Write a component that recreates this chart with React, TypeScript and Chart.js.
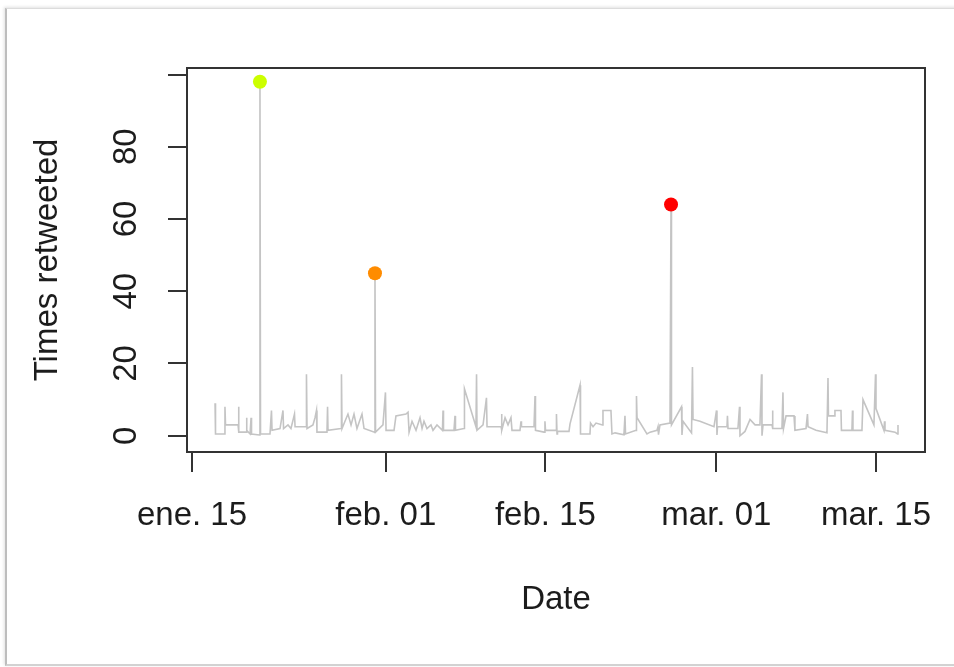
import React, { useEffect, useRef } from 'react';
import { Chart, registerables } from 'chart.js';

Chart.register(...registerables);

// Days since 15 Jan (2016, leap year) of each tweet, and its retweet count
const tweetDays = [
  2.02, 2.06, 2.81, 2.89, 2.94, 4.04, 4.08, 4.12, 4.74, 4.78, 4.82, 5.09, 5.18, 5.22, 5.92, 5.96, 6.01,
  6.84, 6.97, 7.02, 7.72, 7.98, 8.03, 8.42, 8.68, 8.99, 9.04, 10.0, 10.04, 10.09, 10.61, 10.79, 10.92,
  10.96, 11.84, 11.89, 11.93, 13.07, 13.11, 13.16, 13.42, 13.68, 13.95, 14.21, 14.47, 14.91, 15.09,
  16.01, 16.05, 16.1, 16.75, 16.97, 17.02, 17.72, 17.89, 18.77, 18.95, 19.04, 19.3, 19.65, 20.0, 20.18,
  20.35, 20.61, 20.96, 21.14, 21.49, 21.97, 22.02, 22.06, 22.98, 23.07, 23.11, 23.86, 23.9, 24.91, 24.96,
  25.0, 25.53, 25.83, 25.88, 27.11, 27.15, 27.19, 27.46, 27.72, 27.98, 28.07, 28.77, 28.86, 28.9, 30.0,
  30.09, 30.13, 30.88, 30.96, 31.01, 31.93, 31.97, 32.02, 32.06, 33.07, 33.16, 34.04, 34.08, 34.91, 34.96,
  35.18, 35.44, 36.01, 36.05, 36.75, 36.84, 37.11, 37.89, 37.98, 38.03, 38.95, 38.99, 39.04, 39.91, 40.18,
  40.79, 40.88, 40.92, 41.05, 41.93, 42.02, 42.06, 42.94, 42.98, 43.07, 43.82, 43.9, 43.95, 44.56, 45.79,
  46.01, 46.05, 46.1, 46.93, 46.97, 47.02, 47.89, 48.03, 48.07, 48.51, 48.95, 49.39, 49.82, 49.96, 50.0,
  50.09, 50.88, 50.92, 50.96, 51.75, 51.84, 51.89, 52.11, 52.81, 52.89, 53.86, 53.99, 54.04, 54.74, 55.7,
  55.79, 55.83, 56.32, 56.4, 56.93, 56.97, 57.89, 57.94, 57.98, 58.77, 58.86, 59.82, 59.96, 60.0, 60.7,
  60.75, 60.79, 61.67, 61.89, 61.93,
];
const retweetCounts = [
  9, 0.5, 0.5, 8, 3, 3, 8, 1, 1, 5, 1.5, 0.5, 5, 0.5, 0.2, 98, 0.5,
  0.5, 7, 1.5, 2, 7, 2, 3, 2, 6, 2.5, 2.5, 17, 2, 3, 5, 7,
  1, 1, 8, 1.5, 2, 17, 2, 4, 6, 3, 6, 2, 6, 2,
  1, 45, 1, 3, 12, 1.5, 1.5, 5.5, 6, 6.5, 1, 4, 1.5, 5, 2,
  4, 2, 3, 1.5, 3, 1.5, 7, 1.5, 1.5, 5.5, 1.5, 2, 13, 2.5, 17,
  1.5, 3, 10.5, 2.5, 2.5, 6, 1.5, 5, 3, 5, 1.5, 1.5, 4, 2.5, 2.5,
  11, 1.5, 1, 4, 1.5, 1.5, 6, 0.5, 1.2, 1.2, 3.3, 14, 0.5, 0.5, 3.5,
  2.5, 3.5, 3, 7, 7, 0.5, 0.8, 0.3, 5.5, 0.5, 1.5, 11, 5, 0.5, 1,
  1.5, 2.5, 0.3, 3, 3.5, 64, 3, 8, 0.2, 4, 0.8, 19, 4.5, 4, 2.5,
  7, 0.2, 2.5, 2.5, 5.5, 2, 2, 8, 0, 1.2, 4.5, 3, 3, 17, 0,
  3, 3, 7, 2, 2, 12, 2, 5.5, 5.5, 1.5, 2, 6, 2.5, 1.5, 0.8,
  16, 5.5, 5.5, 7, 7, 1.5, 1.5, 7, 1.5, 1.5, 10, 3, 17, 7.5, 1.5,
  4, 1.5, 1, 0.5, 3,
];

// Highlighted tweets
const highlightDays = [5.96, 16.05, 42.02];
const highlightCounts = [98, 45, 64];
const highlightColors = ['#ccff00', '#ff8c00', '#ff0000'];

// Axis ticks
const xTickDays = [0, 17, 31, 46, 60];
const xTickLabels = ['ene. 15', 'feb. 01', 'feb. 15', 'mar. 01', 'mar. 15'];
const yTickValues = [0, 20, 40, 60, 80, 100];
const yTickLabels = ['0', '20', '40', '60', '80', ''];

const FONT = '"Liberation Sans", Arial, Helvetica, sans-serif';
const TEXT = '#1c1c1c';
const AXIS = '#333333';

const boxPlugin = {
  id: 'rbox',
  afterDraw(chart: any) {
    const { ctx, chartArea: a, scales } = chart;
    ctx.save();
    ctx.strokeStyle = AXIS;
    ctx.lineWidth = 2;
    ctx.strokeRect(a.left, a.top, a.right - a.left, a.bottom - a.top);
    const ys = scales.y;
    ctx.fillStyle = TEXT;
    ctx.font = `33px ${FONT}`;
    ctx.textAlign = 'center';
    ctx.textBaseline = 'middle';
    yTickValues.forEach((v, i) => {
      const lbl = yTickLabels[i];
      if (!lbl) return;
      const py = ys.getPixelForValue(v);
      ctx.save();
      ctx.translate(a.left - 60, py);
      ctx.rotate(-Math.PI / 2);
      ctx.fillText(lbl, 0, 0);
      ctx.restore();
    });
    ctx.restore();
  },
};

export default function App() {
  const ref = useRef<HTMLCanvasElement | null>(null);

  useEffect(() => {
    const canvas = ref.current;
    if (!canvas) return;
    const lineData = tweetDays.map((d, i) => ({ x: d, y: retweetCounts[i] }));
    const hiData = highlightDays.map((d, i) => ({ x: d, y: highlightCounts[i] }));
    const chart = new Chart(canvas, {
      type: 'scatter',
      data: {
        datasets: [
          {
            data: hiData,
            showLine: false,
            pointRadius: 7,
            pointBorderWidth: 0,
            pointBackgroundColor: highlightColors,
            pointBorderColor: highlightColors,
            order: 0,
          },
          {
            data: lineData,
            showLine: true,
            borderColor: '#c4c4c4',
            borderWidth: 1.6,
            pointRadius: 0,
            tension: 0,
            order: 1,
          },
        ],
      },
      options: {
        responsive: false,
        animation: false,
        devicePixelRatio: 1,
        layout: { autoPadding: false, padding: { top: 68, right: 29, left: 0, bottom: 0 } },
        plugins: { legend: { display: false }, tooltip: { enabled: false } },
        scales: {
          x: {
            type: 'linear',
            min: -0.44,
            max: 64.3,
            afterBuildTicks: (s: any) => {
              s.ticks = xTickDays.map((v) => ({ value: v }));
            },
            afterFit: (s: any) => {
              s.height = 215;
              s.paddingLeft = 0;
              s.paddingRight = 0;
            },
            ticks: {
              autoSkip: false,
              maxRotation: 0,
              minRotation: 0,
              padding: 24,
              color: TEXT,
              font: { family: FONT, size: 33 },
              callback: (_v: any, i: number) => xTickLabels[i],
            },
            grid: { drawOnChartArea: false, drawTicks: true, tickLength: 20, color: AXIS, lineWidth: 2 },
            border: { display: true, color: AXIS, width: 2 },
            title: {
              display: true,
              text: 'Date',
              color: TEXT,
              font: { family: FONT, size: 33 },
              padding: { top: 0, bottom: 47 },
            },
          },
          y: {
            type: 'linear',
            min: -4.5,
            max: 101.8,
            afterBuildTicks: (s: any) => {
              s.ticks = yTickValues.map((v) => ({ value: v }));
            },
            afterFit: (s: any) => {
              s.width = 187;
              s.paddingTop = 0;
              s.paddingBottom = 0;
            },
            ticks: { display: false },
            grid: { drawOnChartArea: false, drawTicks: true, tickLength: 19, color: AXIS, lineWidth: 2 },
            border: { display: true, color: AXIS, width: 2 },
            title: {
              display: true,
              text: 'Times retweeted',
              color: TEXT,
              font: { family: FONT, size: 33 },
              padding: { top: 28, bottom: 0 },
            },
          },
        },
      },
      plugins: [boxPlugin],
    });
    return () => chart.destroy();
  }, []);

  return (
    <div style={{ position: 'fixed', left: 0, top: 0, width: 954, height: 667, background: '#ffffff', overflow: 'hidden' }}>
      <div
        style={{
          position: 'absolute',
          left: 5,
          top: 8,
          width: 1000,
          height: 655,
          borderLeft: '2px solid #bdbdbd',
          borderTop: '1px solid #dcdcdc',
          borderBottom: '2px solid #d2d2d2',
          boxShadow: '-1px -1px 3px rgba(0,0,0,0.12)',
          background: '#ffffff',
        }}
      />
      <canvas ref={ref} width={954} height={667} style={{ position: 'absolute', left: 0, top: 0, width: 954, height: 667 }} />
    </div>
  );
}
